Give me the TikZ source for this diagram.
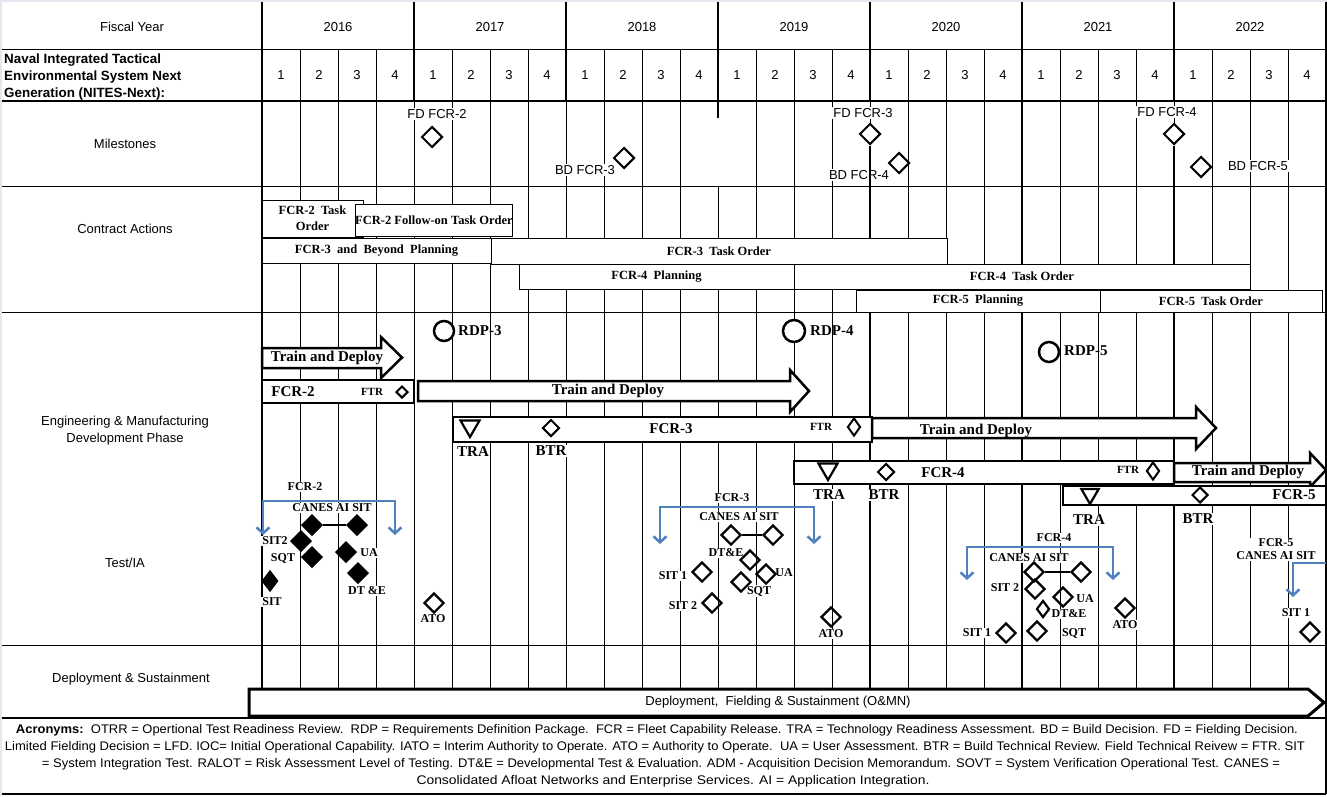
\documentclass[tikz,border=0pt]{standalone}
\usepackage{fontspec}
\setmainfont{Liberation Sans}
\newfontfamily\tnr{Liberation Serif}
\usepackage{graphicx}
\usetikzlibrary{shapes.geometric,arrows.meta}
\definecolor{bracketblue}{RGB}{79,129,189}
\definecolor{margingray}{RGB}{228,232,238}
\newsavebox\fitbx
\newcommand\fitto[2]{\sbox\fitbx{#2}\edef\fitw{\the\wd\fitbx}\pgfmathsetmacro\fitsc{#1/\fitw}\scalebox{\fitsc}[1]{\usebox\fitbx}}
\newcommand\barrow[7]{\draw[arrowbox] (#1,#4) -- (#2,#4) -- (#2,#6) -- (#3,{(#6+#7)/2}) -- (#2,#7) -- (#2,#5) -- (#1,#5) -- cycle;}
\tikzset{
 gl/.style={line width=1pt},
 yl/.style={line width=1.8pt},
 tk/.style={line width=2.5pt},
 hd/.style={font=\fontsize{13}{17}\selectfont, inner sep=1pt},
 mlab/.style={font=\fontsize{13}{15}\selectfont, fill=white, inner sep=1.5pt},
 cabox/.style={draw, line width=1pt, fill=white, inner sep=0pt, font=\tnr\bfseries\fontsize{12.5}{16}\selectfont, align=center},
 barbox/.style={draw, line width=1.2pt, fill=white, inner sep=0pt},
 barlab/.style={font=\tnr\bfseries\fontsize{15}{17}\selectfont, inner sep=1pt},
 ftrlab/.style={font=\tnr\bfseries\fontsize{11}{13}\selectfont, inner sep=1pt},
 sublab/.style={font=\tnr\bfseries\fontsize{15}{17}\selectfont, fill=white, inner sep=1pt},
 tlab/.style={font=\tnr\bfseries\fontsize{12}{13}\selectfont, fill=white, inner sep=1pt},
 arrowbox/.style={draw, line width=2.5pt, fill=white, line join=miter},
 dia/.style={diamond, draw, line width=2.2pt, inner sep=0pt, minimum width=20pt, minimum height=20pt},
 mdia/.style={dia, fill=white, line width=2pt, minimum width=21pt, minimum height=21pt},
 fdia/.style={dia, fill=black, line width=1pt, minimum width=21pt, minimum height=21pt},
 tri/.style={regular polygon, regular polygon sides=3, shape border rotate=180, draw, line width=2.2pt, inner sep=0pt, minimum size=22pt, fill=white},
 rdp/.style={circle, draw, line width=2.5pt, inner sep=0pt, minimum size=20pt, fill=white},
 bracket/.style={draw=bracketblue, line width=2.5pt, {Straight Barb[length=6pt,width=13pt]}-{Straight Barb[length=6pt,width=13pt]}},
 bracketone/.style={draw=bracketblue, line width=2.5pt, -{Straight Barb[length=6pt,width=13pt]}},
 acr/.style={font=\fontsize{12.5}{14}\selectfont, inner sep=0pt},
}
\begin{document}
\begin{tikzpicture}[x=1pt,y=-1pt]
\useasboundingbox (0,0) rectangle (1327,796);
\fill[margingray] (0,0) rectangle (1327,796);
\fill[white] (2,2) rectangle (1327,796);

% ---------- grid ----------
\foreach \i in {1,2,3,5,6,7,9,10,11,13,14,15,17,18,19,21,22,23,25,26,27}
  \draw[gl] ({262+38*\i},49) -- ({262+38*\i},718);
\foreach \xx in {414,566,718,870,1022,1174} \draw[yl] (\xx,2) -- (\xx,101);
\draw[gl] (414,101) -- (414,718);
\draw[gl] (566,101) -- (566,718);
\draw[yl] (718,101) -- (718,118);
\draw[gl] (718,186) -- (718,718);
\draw[gl] (870,101) -- (870,130);
\draw[line width=2.2pt] (1022,101) -- (1022,718);
\draw[gl] (1174,101) -- (1174,130);
\draw[line width=1.3pt] (262,2) -- (262,718);
\draw[line width=1.5pt] (1326,2) -- (1326,794);
\draw[gl] (2,49) -- (1326,49);
\draw[line width=2.2pt] (2,101) -- (1326,101);
\draw[gl] (2,186) -- (1326,186);
\draw[gl] (2,312) -- (1326,312);
\draw[gl] (2,645) -- (1326,645);
\draw[tk] (2,718) -- (1326,718);
\draw[tk] (2,794) -- (1326,794);

% ---------- header ----------
\node[hd] (fyear) at (132,27) {Fiscal Year};
\foreach \yr [count=\k from 0] in {2016,2017,2018,2019,2020,2021,2022}
  \node[hd] (fy\yr) at ({338+152*\k},27) {\yr};
\foreach \k in {0,...,27}{\pgfmathtruncatemacro\q{mod(\k,4)+1}\node[hd] (q\k) at ({281+38*\k},75) {\q};}
\node[font=\bfseries\fontsize{13.4}{17}\selectfont, align=left, anchor=north west, inner sep=0pt] (nites) at (4,54)
  {Naval Integrated Tactical\\Environmental System Next\\Generation (NITES-Next):};

% ---------- left column ----------
\node[hd] (lms) at (125,144) {Milestones};
\node[hd] (lca) at (125,229) {Contract Actions};
\node[hd, align=center] (lemd) at (125,431) {Engineering \& Manufacturing\\Development Phase};
\node[hd] (ltia) at (125,563) {Test/IA};
\node[hd] (lds) at (131,679) {Deployment \& Sustainment};

% ---------- milestones ----------
\node[mlab] (lfd2) at (437,114) {FD FCR-2};
\node[mlab] (lbd3) at (585,170) {BD FCR-3};
\node[mlab] (lfd3) at (863,113) {FD FCR-3};
\node[mlab] (lbd4) at (859,175) {BD FCR-4};
\node[mlab] (lfd4) at (1167,112) {FD FCR-4};
\node[mlab] (lbd5) at (1258,166) {BD FCR-5};
\node[mdia] (fd2) at (432,137) {};
\node[mdia] (bd3) at (624,158) {};
\node[mdia] (fd3) at (870,134) {};
\node[mdia] (bd4) at (899,163) {};
\node[mdia] (fd4) at (1174,134) {};
\node[mdia] (bd5) at (1201,167) {};
\coordinate (fd3end) at (870,718);
\coordinate (fd4end) at (1174,718);
\draw[tk] (fd3.south) -- (fd3end);
\draw[tk] (fd4.south) -- (fd4end);

% ---------- contract actions ----------
\node[cabox, minimum width=101pt, minimum height=37pt] (to2) at (312.5,218.5) {FCR-2\ \ Task\\Order};
\node[cabox, minimum width=156pt, minimum height=32pt] (fo2) at (434,220) {FCR-2 Follow-on Task Order};
\node[cabox, minimum width=229pt, minimum height=25pt] (pl3) at (376.5,250.5) {FCR-3\ \ and\ \ Beyond\ \ Planning};
\node[cabox, minimum width=456pt, minimum height=26pt] (to3) at (719,251) {FCR-3\ \ Task Order};
\node[cabox, minimum width=275pt, minimum height=25pt] (pl4) at (656.5,276.5) {FCR-4\ \ Planning};
\node[cabox, minimum width=456pt, minimum height=25pt] (to4) at (1022,276.5) {FCR-4\ \ Task Order};
\node[cabox, minimum width=244pt, minimum height=22pt] (pl5) at (978,301) {FCR-5\ \ Planning};
\node[cabox, minimum width=222pt, minimum height=22pt] (to5) at (1211,301) {FCR-5\ \ Task Order};

% ---------- EMD ----------
\barrow{262}{381}{402}{348}{368}{337}{378}
\barrow{418}{790}{809}{381}{401}{370}{412}
\node[barbox, minimum width=152pt, minimum height=23pt] (bar2) at (338,391.5) {};
\node[barbox, minimum width=419pt, minimum height=25pt] (bar3) at (662.5,429.5) {};
\barrow{872}{1196}{1216}{418}{438}{407}{449}
\node[barbox, minimum width=380pt, minimum height=23pt] (bar4) at (984,472.5) {};
\barrow{1174}{1310}{1326}{463}{482}{453}{487}
\node[barbox, minimum width=263pt, minimum height=19pt] (bar5) at (1194.5,495.5) {};

\node[barlab] (td1) at (327,358) {Train and Deploy};
\node[barlab] (td2) at (608,391) {Train and Deploy};
\node[barlab] (td3) at (976,431) {Train and Deploy};
\node[barlab] (td4) at (1248,472) {Train and Deploy};

\node[barlab] (n2) at (293,392) {FCR-2};
\node[ftrlab] (ftr2l) at (372,392) {FTR};
\node[dia, fill=white, line width=2pt, minimum width=12pt, minimum height=12pt] (ftr2) at (402,392) {};

\node[barlab] (n3) at (671,429) {FCR-3};
\node[ftrlab] (ftr3l) at (821,427) {FTR};
\node[dia, fill=white, line width=2pt, minimum width=13pt, minimum height=18pt] (ftr3) at (854,427) {};
\node[tri] (tra3) at (470,426) {};
\node[dia, fill=white, line width=2pt, minimum width=17pt, minimum height=17pt] (btr3) at (551,428) {};
\node[sublab] (tra3l) at (473,452) {TRA};
\node[sublab] (btr3l) at (551,451) {BTR};

\node[barlab] (n4) at (943,473) {FCR-4};
\node[ftrlab] (ftr4l) at (1128,470) {FTR};
\node[dia, fill=white, line width=2pt, minimum width=13pt, minimum height=18pt] (ftr4) at (1153,471) {};
\node[tri] (tra4) at (828,469) {};
\node[dia, fill=white, line width=2pt, minimum width=17pt, minimum height=17pt] (btr4) at (886,472) {};
\node[sublab] (tra4l) at (829,495) {TRA};
\node[sublab] (btr4l) at (884,495) {BTR};

\node[barlab] (n5) at (1294,495) {FCR-5};
\node[tri, minimum size=20pt] (tra5) at (1090,494) {};
\node[dia, fill=white, line width=2pt, minimum width=16pt, minimum height=16pt] (btr5) at (1200,495) {};
\node[sublab] (tra5l) at (1089,520) {TRA};
\node[sublab] (btr5l) at (1198,519) {BTR};

\node[rdp] (rdp3) at (444,331) {};
\node[barlab, anchor=west] (rdp3l) at (457,331) {RDP-3};
\node[rdp, minimum size=22pt] (rdp4) at (794,331) {};
\node[barlab, anchor=west] (rdp4l) at (809,331) {RDP-4};
\node[rdp] (rdp5) at (1049,352) {};
\node[barlab, anchor=west] (rdp5l) at (1063,351) {RDP-5};

% ---------- Test/IA : FCR-2 ----------
\coordinate (b2a) at (263,535); \coordinate (b2al) at (263,501);
\coordinate (b2b) at (395,535); \coordinate (b2bl) at (395,501);
\draw[bracket] (b2a) -- (b2al) -- (b2bl) -- (b2b);
\node[tlab] (t2f) at (305,487) {FCR-2};
\node[tlab] (t2c) at (332,508) {CANES AI SIT};
\node[tlab] (t2s2) at (275,541) {SIT2};
\node[tlab] (t2q) at (283,558) {SQT};
\node[tlab] (t2u) at (369,553) {UA};
\node[tlab] (t2d) at (367,591) {DT \&E};
\node[tlab] (t2s) at (272,602) {SIT};
\node[tlab] (t2a) at (433,619) {ATO};
\node[fdia] (c2a) at (312,525) {};
\node[fdia] (c2b) at (357,525) {};
\draw[line width=2.5pt] (c2a) -- (c2b);
\node[fdia] (d2s2) at (301,541) {};
\node[fdia] (d2q) at (312,557) {};
\node[fdia] (d2u) at (346,552) {};
\node[fdia] (d2d) at (358,573) {};
\node[fdia, minimum width=16pt, minimum height=21pt] (d2s) at (270,581) {};
\node[dia] (d2a) at (434,603) {};

% ---------- Test/IA : FCR-3 ----------
\coordinate (b3a) at (660,544); \coordinate (b3al) at (660,507);
\coordinate (b3b) at (814,544); \coordinate (b3bl) at (814,507);
\draw[bracket] (b3a) -- (b3al) -- (b3bl) -- (b3b);
\node[tlab] (t3f) at (732,498) {FCR-3};
\node[tlab] (t3c) at (739,517) {CANES AI SIT};
\node[tlab] (t3d) at (726,553) {DT\&E};
\node[tlab] (t3s1) at (673,576) {SIT 1};
\node[tlab] (t3u) at (784,573) {UA};
\node[tlab] (t3q) at (759,591) {SQT};
\node[tlab] (t3s2) at (683,606) {SIT 2};
\node[tlab] (t3a) at (831,634) {ATO};
\node[dia] (c3a) at (731,535) {};
\node[dia] (c3b) at (773,535) {};
\draw[line width=2.5pt] (c3a) -- (c3b);
\node[dia] (d3d) at (750,560) {};
\node[dia] (d3s1) at (702,572) {};
\node[dia] (d3u) at (766,574) {};
\node[dia] (d3q) at (741,582) {};
\node[dia] (d3s2) at (712,603) {};
\node[dia] (d3a) at (831,617) {};

% ---------- Test/IA : FCR-4 ----------
\coordinate (b4a) at (967,580); \coordinate (b4al) at (967,547);
\coordinate (b4b) at (1113,580); \coordinate (b4bl) at (1113,547);
\draw[bracket] (b4a) -- (b4al) -- (b4bl) -- (b4b);
\node[tlab] (t4f) at (1054,538) {FCR-4};
\node[tlab] (t4c) at (1029,558) {CANES AI SIT};
\node[tlab] (t4s2) at (1005,588) {SIT 2};
\node[tlab] (t4u) at (1085,599) {UA};
\node[tlab] (t4d) at (1069,614) {DT\&E};
\node[tlab] (t4q) at (1074,633) {SQT};
\node[tlab] (t4s1) at (977,633) {SIT 1};
\node[tlab] (t4a) at (1125,625) {ATO};
\node[dia] (c4a) at (1034,572) {};
\node[dia] (c4b) at (1081,572) {};
\draw[line width=2.5pt] (c4a) -- (c4b);
\node[dia] (d4s2) at (1035,589) {};
\node[dia] (d4u) at (1063,597) {};
\node[dia, minimum width=13pt, minimum height=17pt] (d4d) at (1043,609) {};
\node[dia] (d4q) at (1037,631) {};
\node[dia] (d4s1) at (1006,633) {};
\node[dia] (d4a) at (1125,608) {};

% ---------- Test/IA : FCR-5 ----------
\coordinate (b5r) at (1326,563); \coordinate (b5c) at (1293,563); \coordinate (b5a) at (1293,597);
\draw[bracketone] (b5r) -- (b5c) -- (b5a);
\node[tlab, align=center] (t5c) at (1276,549.5) {FCR-5\\CANES AI SIT};
\node[tlab] (t5s1) at (1296,613) {SIT 1};
\node[dia] (d5s1) at (1310,632) {};

% ---------- Deployment ----------
\draw[arrowbox, line width=3pt] (249,689) -- (1308,689) -- (1324,702.5) -- (1308,716) -- (249,716) -- cycle;
\node[hd] (dep) at (778,702.5) {Deployment,\ \ Fielding \& Sustainment (O\&MN)};

% ---------- Acronyms ----------
\node[acr] (ac1) at (657,730) {\fitto{1282}{\textbf{Acronyms:}\ \ OTRR = Opertional Test Readiness Review.\ \ RDP = Requirements Definition Package.\ \ FCR = Fleet Capability Release. TRA = Technology Readiness Assessment. BD = Build Decision. FD = Fielding Decision.}};
\node[acr] (ac2) at (655,747) {\fitto{1300}{Limited Fielding Decision = LFD. IOC= Initial Operational Capability. IATO = Interim Authority to Operate. ATO = Authority to Operate.\ \ UA = User Assessment. BTR = Build Technical Review. Field Technical Reivew = FTR. SIT}};
\node[acr] (ac3) at (661,764) {\fitto{1238}{= System Integration Test. RALOT = Risk Assessment Level of Testing. DT\&E = Developmental Test \& Evaluation. ADM - Acquisition Decision Memorandum. SOVT = System Verification Operational Test. CANES =}};
\node[acr] (ac4) at (673,781) {\fitto{513}{Consolidated Afloat Networks and Enterprise Services. AI = Application Integration.}};
\end{tikzpicture}
\end{document}
